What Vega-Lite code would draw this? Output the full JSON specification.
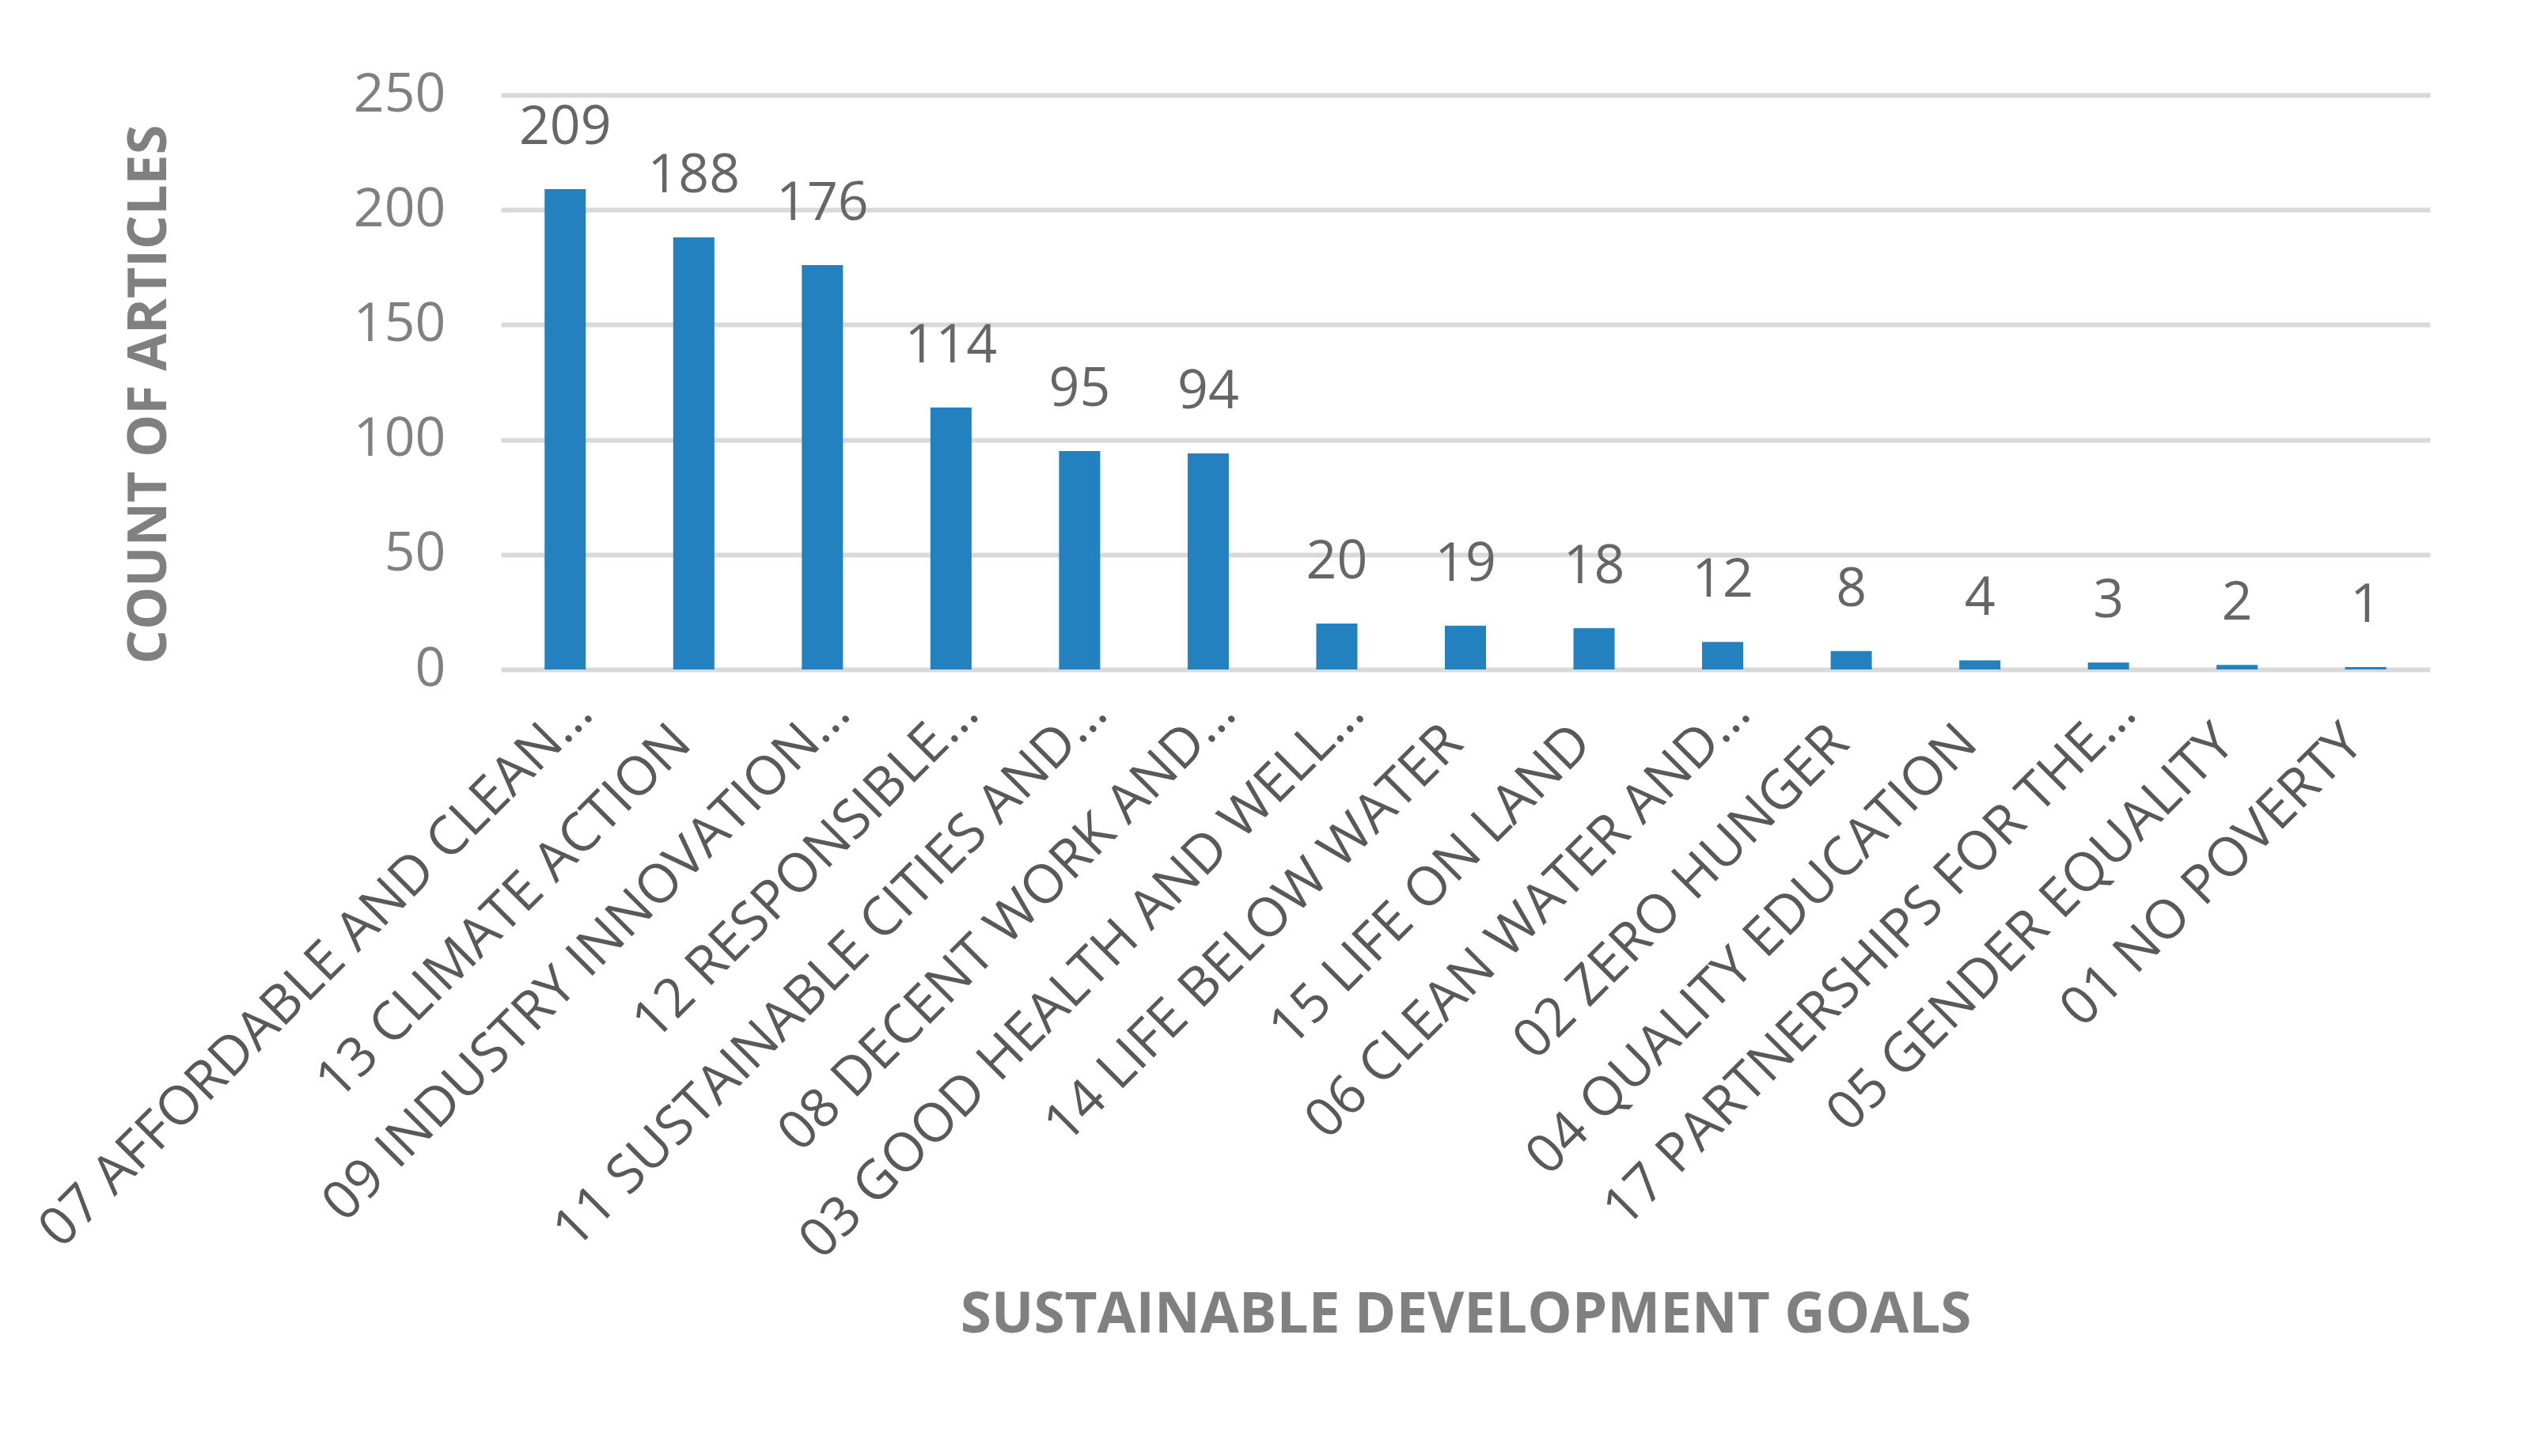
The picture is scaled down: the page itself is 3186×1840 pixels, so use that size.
{
  "$schema": "https://vega.github.io/schema/vega-lite/v6.json",
  "autosize": {"type": "none"},
  "padding": {"left": 633, "top": 120, "right": 115, "bottom": 994},
  "width": 2438,
  "height": 726,
  "background": "white",
  "config": {
    "view": {"stroke": null},
    "font": "Open Sans"
  },
  "data": {
    "values": [
      {"goal": "07 AFFORDABLE AND CLEAN…", "count": 209},
      {"goal": "13 CLIMATE ACTION", "count": 188},
      {"goal": "09 INDUSTRY INNOVATION…", "count": 176},
      {"goal": "12 RESPONSIBLE…", "count": 114},
      {"goal": "11 SUSTAINABLE CITIES AND…", "count": 95},
      {"goal": "08 DECENT WORK AND…", "count": 94},
      {"goal": "03 GOOD HEALTH AND WELL…", "count": 20},
      {"goal": "14 LIFE BELOW WATER", "count": 19},
      {"goal": "15 LIFE ON LAND", "count": 18},
      {"goal": "06 CLEAN WATER AND…", "count": 12},
      {"goal": "02 ZERO HUNGER", "count": 8},
      {"goal": "04 QUALITY EDUCATION", "count": 4},
      {"goal": "17 PARTNERSHIPS FOR THE…", "count": 3},
      {"goal": "05 GENDER EQUALITY", "count": 2},
      {"goal": "01 NO POVERTY", "count": 1}
    ]
  },
  "encoding": {
    "x": {
      "field": "goal",
      "type": "nominal",
      "sort": null,
      "scale": {"paddingInner": 0.68, "paddingOuter": 0.34},
      "axis": {
        "title": "SUSTAINABLE DEVELOPMENT GOALS",
        "titleFont": "Open Sans",
        "titleFontSize": 71,
        "titleFontWeight": "bold",
        "titleColor": "#808080",
        "titleBaseline": "middle",
        "titleY": 816,
        "labelAngle": -45,
        "labelAlign": "right",
        "labelBaseline": "alphabetic",
        "labelFontSize": 68,
        "labelColor": "#595959",
        "labelPadding": {"condition": {"test": "indexof(datum.value, '…') >= 0", "value": 58}, "value": 96},
        "labelOffset": {"condition": {"test": "indexof(datum.value, '…') >= 0", "value": 38}, "value": 0},
        "labelDx": 14,
        "labelLimit": 0,
        "labelOverlap": false,
        "ticks": false,
        "domain": false
      }
    },
    "y": {
      "field": "count",
      "type": "quantitative",
      "scale": {"domain": [0, 250]},
      "axis": {
        "title": "COUNT OF ARTICLES",
        "titleFont": "Open Sans",
        "titleFontSize": 68,
        "titleFontWeight": "bold",
        "titleColor": "#808080",
        "titleBaseline": "middle",
        "titleX": -444,
        "titleY": 378,
        "values": [0, 50, 100, 150, 200, 250],
        "labelFontSize": 68,
        "labelColor": "#808080",
        "labelPadding": 70,
        "ticks": false,
        "domain": false,
        "gridColor": "#d9d9d9",
        "gridWidth": 6
      }
    }
  },
  "layer": [
    {
      "mark": {"type": "bar", "color": "#2481c0"}
    },
    {
      "mark": {
        "type": "text",
        "baseline": "alphabetic",
        "dy": -57,
        "fontSize": 68,
        "color": "#666666"
      },
      "encoding": {"text": {"field": "count", "type": "quantitative"}}
    }
  ]
}
